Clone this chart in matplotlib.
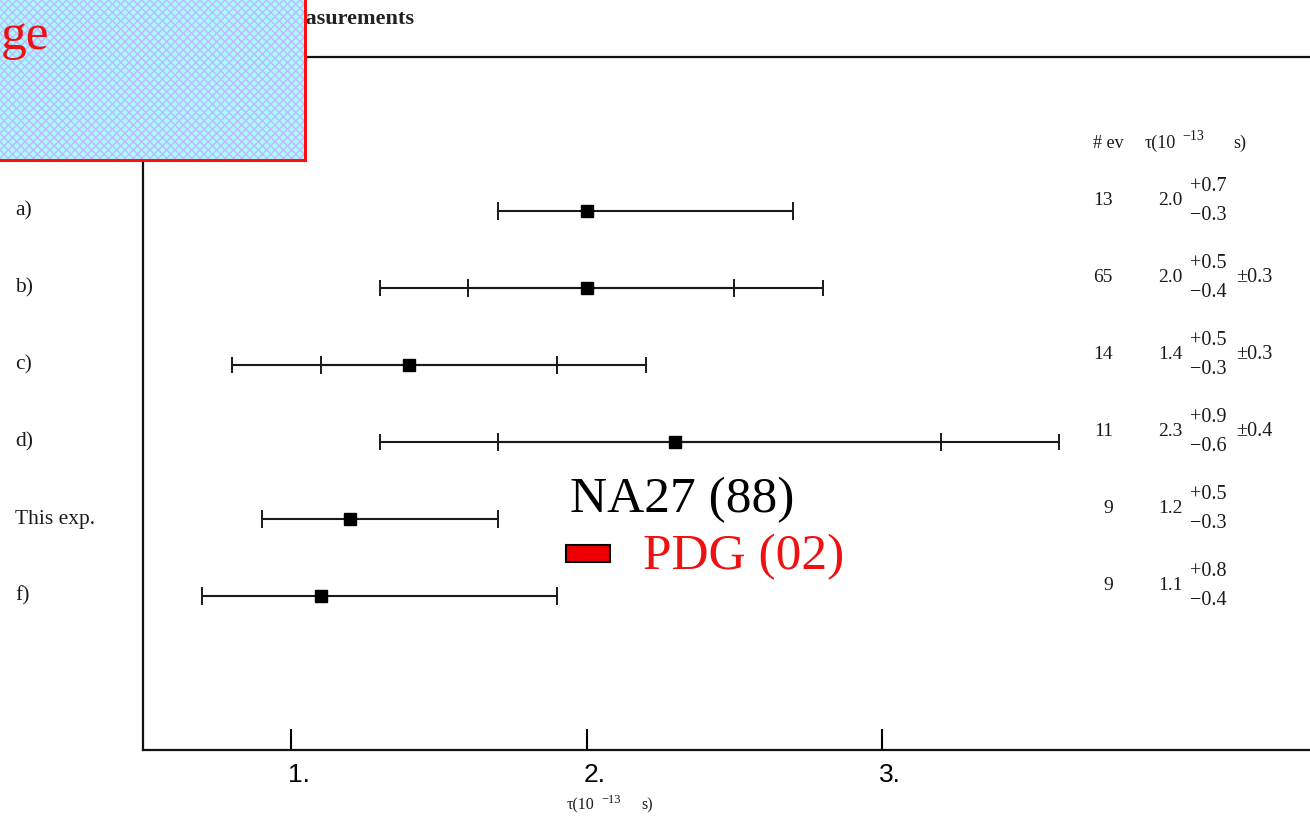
import matplotlib
matplotlib.use("Agg")
import matplotlib.pyplot as plt
from matplotlib.patches import Rectangle
from matplotlib.transforms import blended_transform_factory, ScaledTranslation

plt.rcParams['font.family'] = ['Liberation Serif', 'DejaVu Serif']
plt.rcParams['hatch.linewidth'] = 1.0

# ---- data ----
labels = ['a)', 'b)', 'c)', 'd)', 'This exp.', 'f)']
tau = [2.0, 2.0, 1.4, 2.3, 1.2, 1.1]
err_plus = [0.7, 0.5, 0.5, 0.9, 0.5, 0.8]
err_minus = [0.3, 0.4, 0.3, 0.6, 0.3, 0.4]
syst = [None, 0.3, 0.3, 0.4, None, None]
n_events = [13, 65, 14, 11, 9, 9]
xticks = [1, 2, 3]
xtick_labels = ['1.', '2.', '3.']

W, H = 1310, 818
fig = plt.figure(figsize=(W / 100, H / 100), dpi=100)
fig.patch.set_facecolor('white')


def fx(px):
    return px / W


def fy(py):
    return 1 - py / H


ax = fig.add_axes([fx(143), fy(750), 1 - fx(143), fy(57) - fy(750)], zorder=0)
ax.set_xlim(0.499, 4.448)
ax.set_ylim(7, -2)
for s in ['left', 'bottom', 'top']:
    ax.spines[s].set_linewidth(1.6)
    ax.spines[s].set_color('#111111')
ax.spines['right'].set_visible(False)
ax.set_yticks([])
ax.set_xticks(xticks)
ax.set_xticklabels(xtick_labels, family=['Liberation Sans Narrow', 'Liberation Sans', 'DejaVu Sans'],
                   fontsize=19)
ax.tick_params(axis='x', direction='in', length=15, width=1.5, pad=9, top=False)
off = ScaledTranslation(8 / 100, 0, fig.dpi_scale_trans)
for lab in ax.get_xticklabels():
    lab.set_transform(lab.get_transform() + off)

rows = list(range(len(labels)))

# outer (stat + syst) bars
for i in rows:
    if syst[i] is not None:
        ax.errorbar([tau[i]], [i],
                    xerr=[[err_minus[i] + syst[i]], [err_plus[i] + syst[i]]],
                    fmt='none', ecolor='#1a1a1a', elinewidth=1.5, capsize=6, capthick=1.4)
# statistical bars with points
ax.errorbar(tau, rows, xerr=[err_minus, err_plus], fmt='s', color='black',
            markersize=9, ecolor='#1a1a1a', elinewidth=1.5, capsize=6.5, capthick=1.4)

tr = blended_transform_factory(fig.transFigure, ax.transData)
txt = dict(transform=tr, va='center', color='#1a1a1a')

# row labels
for i, lab in enumerate(labels):
    ax.text(fx(15), i, lab, fontsize=15.5, ha='left', **txt)

# table header
ax.text(fx(1093), -0.88, '# ev', fontsize=13, ha='left', **txt)
ax.text(fx(1145), -0.88, '\u03c4(10', fontsize=13, ha='left', **txt)
ax.text(fx(1182), -0.97, '\u221213', fontsize=10, ha='left', **txt)
ax.text(fx(1233), -0.88, 's)', fontsize=13, ha='left', **txt)

# table body
for i in rows:
    yy = i - 0.13
    ax.text(fx(1113), yy, str(n_events[i]), fontsize=14, ha='right', **txt)
    ax.text(fx(1158), yy, '%.1f' % tau[i], fontsize=14, ha='left', **txt)
    ax.text(fx(1190), yy - 0.19, '+%.1f' % err_plus[i], fontsize=14.5, ha='left', **txt)
    ax.text(fx(1190), yy + 0.19, '\u2212%.1f' % err_minus[i], fontsize=14.5, ha='left', **txt)
    if syst[i] is not None:
        ax.text(fx(1236), yy, '\u00b1%.1f' % syst[i], fontsize=14.5, ha='left', **txt)

# x-axis title
fig.text(fx(567), fy(805), '\u03c4(10', fontsize=11.5, ha='left', va='center', color='#1a1a1a')
fig.text(fx(601), fy(800), '\u221213', fontsize=9, ha='left', va='center', color='#1a1a1a')
fig.text(fx(641), fy(805), 's)', fontsize=11.5, ha='left', va='center', color='#1a1a1a')

# legend-like annotation
fig.text(fx(570), fy(500), 'NA27 (88)', fontsize=37, color='black', ha='left', va='center', zorder=5)
fig.patches.append(Rectangle((fx(566), fy(562)), fx(610) - fx(566), fy(545) - fy(562),
                             transform=fig.transFigure, facecolor='#ee0000', edgecolor='black',
                             linewidth=1.5, zorder=5))
fig.text(fx(643), fy(557), 'PDG (02)', fontsize=37, color='#ee1111', ha='left', va='center', zorder=5)

# title partly hidden behind the box
fig.text(fx(414), fy(19), 'measurements', fontsize=16, fontweight='bold', ha='right', va='center',
         color='#222222', zorder=4)

# blue patterned box
fig.patches.append(Rectangle((0, fy(160)), fx(305), 1 - fy(160), transform=fig.transFigure,
                             facecolor='#a8fcff', edgecolor='#c2b8ff', hatch='xxxx', linewidth=0,
                             zorder=10))
fig.patches.append(Rectangle((-0.01, fy(160)), fx(305) + 0.01, 1 - fy(160) + 0.01,
                             transform=fig.transFigure,
                             facecolor='none', edgecolor='#ff1010', linewidth=2.2, zorder=11))
fig.text(fx(49), fy(49), 'ge', fontsize=37, color='#ee1111', ha='right', va='baseline', zorder=12)

fig.savefig('out.png', dpi=100)
